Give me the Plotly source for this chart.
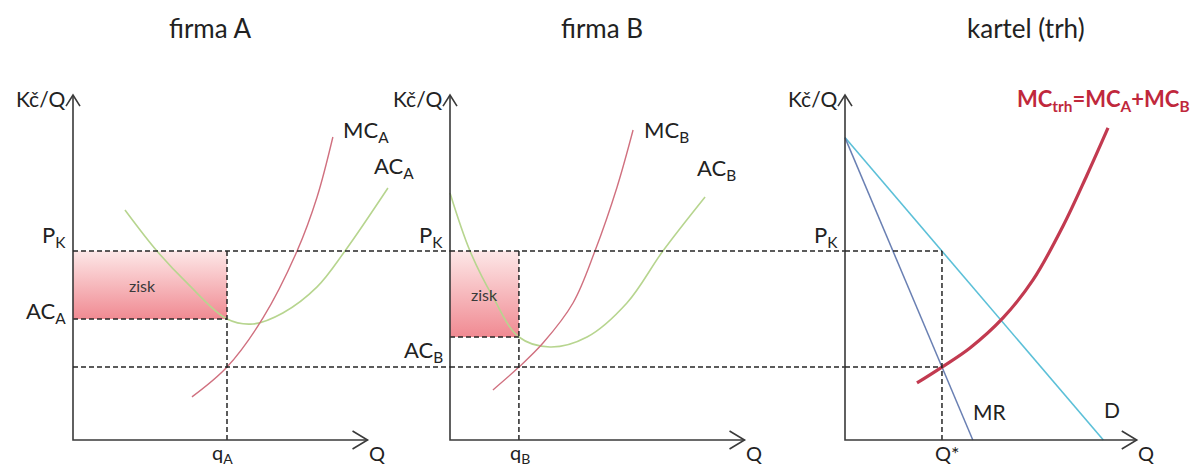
import plotly.graph_objects as go

# ---------------- data (Q in units of output, P in Kč) ----------------
P_K = 10.0          # cartel price
MC_LEVEL = 3.86     # common marginal cost at the optimum
AC_A = 6.4
AC_B = 5.45
q_A = 8.0
q_B = 3.58
Q_STAR = 11.6

# firma A
acA_q = [2.70, 4.36, 5.92, 8.00, 9.35, 10.90, 12.68, 14.13, 16.36]
acA_p = [12.17, 10.0, 8.31, 6.40, 6.14, 6.72, 8.10, 10.0, 13.33]
mcA_q = [6.18, 8.00, 9.87, 11.64, 12.68, 13.50]
mcA_p = [2.28, 3.86, 6.46, 10.0, 12.86, 16.03]

# firma B
acB_q = [0.0, 1.04, 2.23, 3.58, 5.19, 7.12, 9.19, 11.06, 13.25]
acB_p = [13.07, 10.0, 7.57, 5.45, 4.92, 5.45, 7.25, 10.0, 12.86]
mcB_q = [2.23, 3.58, 4.83, 6.39, 7.53, 8.68, 9.51]
mcB_p = [2.65, 3.86, 5.13, 7.25, 10.0, 13.39, 16.4]

# kartel (trh)
d_q = [0.0, 30.9]
d_p = [16.0, 0.0]
mr_q = [0.0, 15.29]
mr_p = [16.0, 0.0]
mct_q = [8.61, 11.6, 14.95, 18.9, 22.49, 26.08, 28.95, 31.46]
mct_p = [3.02, 3.86, 4.87, 6.46, 8.47, 11.32, 14.02, 16.51]

TITLES = ["firma A", "firma B", "kartel (trh)"]

# ---------------- layout geometry ----------------
W, H = 1203, 468
AXIS_PX = [73, 450, 845]          # pixel column of each price axis
PX_PER_Q = [19.25, 19.25, 8.36]
Y0_PX = 440                        # pixel row of the quantity axis
PX_PER_P = 18.9
PAD = 20                           # room left of each price axis
Y_TOP = 18.25                      # top of the price axes
X_END = [15.3, 15.3, 34.9]         # right end of the quantity axes

FONT = "Lato"
INK = "#222222"
AXIS_C = "#3a3a3a"
DASH = dict(color="#262626", width=1.5, dash="5px,3px")
MC_C = "#d0707f"
AC_C = "#b7d58f"
D_C = "#5cc0d8"
MR_C = "#6a80b3"
MCT_C = "#c23a50"

fig = go.Figure()
layout = dict(
    width=W, height=H, margin=dict(l=0, r=0, t=0, b=0),
    paper_bgcolor="white", plot_bgcolor="rgba(0,0,0,0)",
    showlegend=False, font=dict(family=FONT, color=INK),
)

for i in range(3):
    sfx = "" if i == 0 else str(i + 1)
    left = AXIS_PX[i] - PAD
    right = AXIS_PX[i + 1] if i < 2 else W
    layout["xaxis" + sfx] = dict(
        domain=[left / W, right / W],
        range=[-PAD / PX_PER_Q[i], (right - AXIS_PX[i]) / PX_PER_Q[i]],
        visible=False, fixedrange=True, anchor="y" + sfx,
    )
    layout["yaxis" + sfx] = dict(
        domain=[0, 1],
        range=[-(H - Y0_PX) / PX_PER_P, Y0_PX / PX_PER_P],
        visible=False, fixedrange=True, anchor="x" + sfx,
    )

shapes = []
annotations = []
BOTTOM_SHIFT = -13   # quantity-axis labels sit just under the axis


def add_line(ax, x, y, line, shape="linear"):
    fig.add_trace(go.Scatter(x=x, y=y, mode="lines", line=dict(shape=shape, **line),
                             xaxis="x" + ax, yaxis="y" + ax, hoverinfo="skip"))


def axes_frame(i):
    ax = "" if i == 0 else str(i + 1)
    # price and quantity axes
    add_line(ax, [0, 0, X_END[i]], [Y_TOP, 0, 0], dict(color=AXIS_C, width=1.6))
    # open arrow heads
    shapes.append(dict(type="path", xref="x" + ax, yref="y" + ax,
                       xsizemode="pixel", ysizemode="pixel",
                       xanchor=0, yanchor=Y_TOP,
                       path="M-7,-11 L0,0 L7,-11",
                       line=dict(color=AXIS_C, width=1.6)))
    shapes.append(dict(type="path", xref="x" + ax, yref="y" + ax,
                       xsizemode="pixel", ysizemode="pixel",
                       xanchor=X_END[i], yanchor=0,
                       path="M-15,9 L0,0 L-15,-9",
                       line=dict(color=AXIS_C, width=1.6)))
    annotations.append(dict(xref="x" + ax, yref="y" + ax, x=0, y=Y_TOP,
                            text="Kč/Q", showarrow=False, xanchor="right",
                            yanchor="middle", xshift=-6, yshift=-3,
                            font=dict(size=21)))
    annotations.append(dict(xref="x" + ax, yref="y" + ax, x=X_END[i], y=0,
                            text="Q", showarrow=False, xanchor="left",
                            yanchor="middle", xshift=-1, yshift=BOTTOM_SHIFT,
                            font=dict(size=20)))
    annotations.append(dict(xref="x" + ax, yref="y" + ax, x=0, y=P_K,
                            text="P<sub>K</sub>", showarrow=False, xanchor="right",
                            yanchor="bottom", xshift=-5, yshift=-2,
                            font=dict(size=22)))


def profit_box(ax, q, ac, label_x):
    fig.add_trace(go.Scatter(
        x=[0, q, q, 0, 0], y=[ac, ac, P_K, P_K, ac], mode="none", fill="toself",
        fillgradient=dict(type="vertical", start=ac, stop=P_K,
                          colorscale=[[0, "#f08a92"], [1, "#fde7e7"]]),
        xaxis="x" + ax, yaxis="y" + ax, hoverinfo="skip"))
    annotations.append(dict(xref="x" + ax, yref="y" + ax, x=label_x,
                            y=(P_K + ac) / 2, text="zisk", showarrow=False,
                            font=dict(size=16, color="#3a3a3a")))


# ---------------- firma A ----------------
profit_box("", q_A, AC_A, q_A * 0.45)
add_line("", acA_q, acA_p, dict(color=AC_C, width=1.6), "spline")
add_line("", mcA_q, mcA_p, dict(color=MC_C, width=1.4), "spline")
add_line("", [0, q_A], [AC_A, AC_A], DASH)
add_line("", [q_A, q_A], [P_K, 0], DASH)
axes_frame(0)
annotations += [
    dict(xref="x", yref="y", x=0, y=AC_A, text="AC<sub>A</sub>", showarrow=False,
         xanchor="right", yanchor="middle", xshift=-5, yshift=7, font=dict(size=22)),
    dict(xref="x", yref="y", x=q_A, y=0, text="q<sub>A</sub>", showarrow=False,
         xanchor="center", yanchor="middle", xshift=-5, yshift=BOTTOM_SHIFT,
         font=dict(size=20)),
    dict(xref="x", yref="y", x=mcA_q[-1], y=mcA_p[-1], text="MC<sub>A</sub>",
         showarrow=False, xanchor="left", yanchor="middle", xshift=8, yshift=6,
         font=dict(size=22)),
    dict(xref="x", yref="y", x=acA_q[-1], y=acA_p[-1], text="AC<sub>A</sub>",
         showarrow=False, xanchor="left", yanchor="middle", xshift=-16, yshift=21,
         font=dict(size=22)),
]

# ---------------- firma B ----------------
profit_box("2", q_B, AC_B, q_B * 0.5)
add_line("2", acB_q, acB_p, dict(color=AC_C, width=1.6), "spline")
add_line("2", mcB_q, mcB_p, dict(color=MC_C, width=1.4), "spline")
add_line("2", [0, q_B], [AC_B, AC_B], DASH)
add_line("2", [q_B, q_B], [P_K, 0], DASH)
axes_frame(1)
annotations += [
    dict(xref="x2", yref="y2", x=0, y=AC_B, text="AC<sub>B</sub>", showarrow=False,
         xanchor="right", yanchor="top", xshift=-5, yshift=3, font=dict(size=22)),
    dict(xref="x2", yref="y2", x=q_B, y=0, text="q<sub>B</sub>", showarrow=False,
         xanchor="center", yanchor="middle", xshift=1, yshift=BOTTOM_SHIFT,
         font=dict(size=20)),
    dict(xref="x2", yref="y2", x=mcB_q[-1], y=mcB_p[-1], text="MC<sub>B</sub>",
         showarrow=False, xanchor="left", yanchor="middle", xshift=9, yshift=-1,
         font=dict(size=22)),
    dict(xref="x2", yref="y2", x=acB_q[-1], y=acB_p[-1], text="AC<sub>B</sub>",
         showarrow=False, xanchor="left", yanchor="middle", xshift=-10, yshift=28,
         font=dict(size=22)),
]

# ---------------- kartel (trh) ----------------
add_line("3", d_q, d_p, dict(color=D_C, width=1.6))
add_line("3", mr_q, mr_p, dict(color=MR_C, width=1.5))
add_line("3", mct_q, mct_p, dict(color=MCT_C, width=3.2), "spline")
add_line("3", [Q_STAR, Q_STAR], [P_K, 0], DASH)
axes_frame(2)
annotations += [
    dict(xref="x3", yref="y3", x=mr_q[-1], y=0, text="MR", showarrow=False,
         xanchor="left", yanchor="middle", xshift=-2, yshift=29, font=dict(size=21)),
    dict(xref="x3", yref="y3", x=d_q[-1], y=0, text="D", showarrow=False,
         xanchor="left", yanchor="middle", xshift=-1, yshift=31, font=dict(size=21)),
    dict(xref="x3", yref="y3", x=Q_STAR, y=0, text="Q*", showarrow=False,
         xanchor="center", yanchor="middle", xshift=6, yshift=BOTTOM_SHIFT,
         font=dict(size=20)),
    dict(xref="paper", yref="paper", x=1192 / W, y=1 - 100 / H,
         text="<b>MC<sub>trh</sub>=MC<sub>A</sub>+MC<sub>B</sub></b>", showarrow=False,
         xanchor="right", yanchor="middle", font=dict(size=22, color="#c0283c")),
]

# long dashed guides running across all three panels
for i, ax in enumerate(["", "2", "3"]):
    end = (AXIS_PX[i + 1] - AXIS_PX[i]) / PX_PER_Q[i] if i < 2 else Q_STAR
    add_line(ax, [0, end], [P_K, P_K], DASH)
    add_line(ax, [0, end], [MC_LEVEL, MC_LEVEL], DASH)

# panel titles
for i, t in enumerate(TITLES):
    cx = [210, 602, 1026][i]
    annotations.append(dict(xref="paper", yref="paper", x=cx / W, y=1 - 28 / H,
                            text=t, showarrow=False, xanchor="center",
                            yanchor="middle", font=dict(size=26)))

layout["shapes"] = shapes
layout["annotations"] = annotations
fig.update_layout(**layout)
fig.write_html("out.html")
